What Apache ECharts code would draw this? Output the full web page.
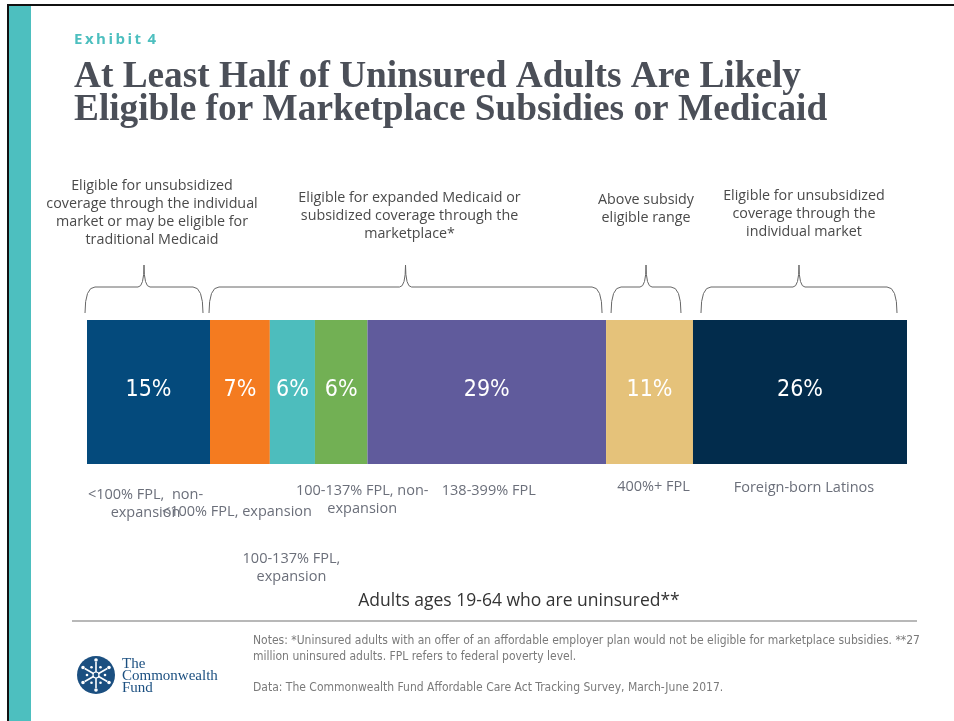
<!DOCTYPE html>
<html>
<head>
<meta charset="utf-8">
<script src="https://cdn.jsdelivr.net/npm/echarts@6/dist/echarts.min.js"></script>
<style>
html,body{margin:0;padding:0;background:#fff;}
#c{width:954px;height:721px;}
</style>
</head>
<body>
<div id="c"></div>
<script>
// ---- data ----
const categories = ['<100% FPL,  non-\nexpansion', '<100% FPL, expansion', '100-137% FPL,\nexpansion', '100-137% FPL, non-\nexpansion', '138-399% FPL', '400%+ FPL', 'Foreign-born Latinos'];
const shares = [15, 7.3, 5.5, 6.4, 29.1, 10.6, 26.1];
const colors = ['#044a7c', '#f47b20', '#4dbdbd', '#72b054', '#605b9c', '#e5c27a', '#022c4c'];
const groupRanges = [[0, 0], [1, 4], [5, 5], [6, 6]];
const groupTexts = [
  'Eligible for unsubsidized\ncoverage through the individual\nmarket or may be eligible for\ntraditional Medicaid',
  'Eligible for expanded Medicaid or\nsubsidized coverage through the\nmarketplace*',
  'Above subsidy\neligible range',
  'Eligible for unsubsidized\ncoverage through the\nindividual market'
];
const axisTitle = 'Adults ages 19-64 who are uninsured**';
const titleText = 'At Least Half of Uninsured Adults Are Likely\nEligible for Marketplace Subsidies or Medicaid';
const notesText = 'Notes: *Uninsured adults with an offer of an affordable employer plan would not be eligible for marketplace subsidies. **27\nmillion uninsured adults. FPL refers to federal poverty level.';
const dataText = 'Data: The Commonwealth Fund Affordable Care Act Tracking Survey, March-June 2017.';

// ---- layout (styling only) ----
const catLabelLayout = [[-3, 495], [-3, 512], [-1, 559], [21, 491], [2, 491], [4, 487], [4, 488]];
const braceInsets = [[-2, 7], [-1, 4], [5, 12], [8, 10]];
const groupTextTop = [177, 189, 191, 187];
const groupTextDx = [8, 4, 0, 5];

const chart = echarts.init(document.getElementById('c'), null, {renderer: 'canvas'});

const series = shares.map((v, i) => ({
  name: categories[i],
  type: 'bar',
  stack: 'all',
  barWidth: 144,
  data: [v],
  itemStyle: {color: colors[i]},
  label: {
    show: true,
    position: 'inside',
    formatter: p => Math.round(p.value) + '%',
    color: '#ffffff',
    fontFamily: 'Liberation Sans Narrow, DejaVu Sans Condensed, sans-serif',
    fontSize: 23,
    offset: [0, -2]
  }
}));

chart.setOption({
  animation: false,
  grid: {left: 87, right: 47, top: 320, height: 144},
  xAxis: {type: 'value', min: 0, max: 100, show: false},
  yAxis: {type: 'category', data: ['uninsured'], show: false},
  series: series
});

const g = [];
// frame and teal band
g.push({type: 'rect', shape: {x: 7, y: 4, width: 947, height: 2}, style: {fill: '#111'}});
g.push({type: 'rect', shape: {x: 7, y: 4, width: 2, height: 717}, style: {fill: '#111'}});
g.push({type: 'rect', shape: {x: 9, y: 6, width: 22, height: 715}, style: {fill: '#4dbfbf'}});

g.push({type: 'text', x: 74, y: 40, style: {text: 'E\u2009x\u2009h\u2009i\u2009b\u2009i\u2009t\u2009 4', fill: '#4dbfbf', font: 'bold 15px "Open Sans", sans-serif', textVerticalAlign: 'middle', verticalAlign: 'middle'}});
g.push({type: 'text', x: 74, y: 94, style: {text: titleText, fill: '#4b4f58', font: 'bold 37.3px "Liberation Serif", serif', lineHeight: 33, textVerticalAlign: 'middle', verticalAlign: 'middle'}});

const cum = [];
let acc = 0;
shares.forEach(v => { cum.push([acc, acc + v]); acc += v; });
const px = v => chart.convertToPixel({xAxisIndex: 0}, v);

// category labels
categories.forEach((c, i) => {
  const cx = (px(cum[i][0]) + px(cum[i][1])) / 2;
  g.push({type: 'text', x: cx + catLabelLayout[i][0], y: catLabelLayout[i][1] - 9,
    style: {text: c, fill: '#6b6f7a', font: '14.5px "Open Sans", sans-serif', lineHeight: 18,
      textAlign: 'center', align: 'center', textVerticalAlign: 'top', verticalAlign: 'top'}});
});

// braces
groupRanges.forEach((r, k) => {
  const x1 = px(cum[r[0]][0]) + braceInsets[k][0];
  const x2 = px(cum[r[1]][1]) - braceInsets[k][1];
  const cx = (x1 + x2) / 2;
  const yb = 313, ym = 287, yt = 265;
  const ls = {stroke: '#666', lineWidth: 1, fill: null};
  g.push({type: 'bezierCurve', shape: {x1: x1, y1: yb, cpx1: x1, cpy1: ym, x2: x1 + 10, y2: ym}, style: ls});
  g.push({type: 'line', shape: {x1: x1 + 10, y1: ym, x2: cx - 6, y2: ym}, style: ls});
  g.push({type: 'bezierCurve', shape: {x1: cx - 6, y1: ym, cpx1: cx, cpy1: ym, x2: cx, y2: yt}, style: ls});
  g.push({type: 'bezierCurve', shape: {x1: cx, y1: yt, cpx1: cx, cpy1: ym, x2: cx + 6, y2: ym}, style: ls});
  g.push({type: 'line', shape: {x1: cx + 6, y1: ym, x2: x2 - 10, y2: ym}, style: ls});
  g.push({type: 'bezierCurve', shape: {x1: x2 - 10, y1: ym, cpx1: x2, cpy1: ym, x2: x2, y2: yb}, style: ls});
  g.push({type: 'text', x: cx + groupTextDx[k], y: groupTextTop[k], style: {text: groupTexts[k], fill: '#4a4a4a', font: '14.3px "Open Sans", sans-serif', lineHeight: 18,
    textAlign: 'center', align: 'center', textVerticalAlign: 'top', verticalAlign: 'top'}});
});

// axis title
g.push({type: 'text', x: (px(0) + px(100)) / 2 + 22, y: 601, style: {text: axisTitle, fill: '#333', font: '17.5px "Open Sans", sans-serif',
  textAlign: 'center', align: 'center', textVerticalAlign: 'middle', verticalAlign: 'middle'}});

// separator
g.push({type: 'line', shape: {x1: 72, y1: 621, x2: 917, y2: 621}, style: {stroke: '#a0a0a0', lineWidth: 1.5}});

// notes
g.push({type: 'text', x: 253, y: 649, style: {text: notesText, fill: '#7a7a7a', font: '12px "Liberation Sans Narrow", "DejaVu Sans Condensed", sans-serif', lineHeight: 16, textVerticalAlign: 'middle', verticalAlign: 'middle'}});
g.push({type: 'text', x: 253, y: 688, style: {text: dataText, fill: '#7a7a7a', font: '12px "Liberation Sans Narrow", "DejaVu Sans Condensed", sans-serif', textVerticalAlign: 'middle', verticalAlign: 'middle'}});

// logo
const lx = 96, ly = 675;
g.push({type: 'circle', shape: {cx: lx, cy: ly, r: 19}, style: {fill: '#1b4f80'}});
for (let a = 0; a < 6; a++) {
  const ang = a * Math.PI / 3 + Math.PI / 2;
  const ex = lx + Math.cos(ang) * 13, ey = ly + Math.sin(ang) * 13;
  g.push({type: 'line', shape: {x1: lx, y1: ly, x2: ex, y2: ey}, style: {stroke: '#fff', lineWidth: 1.6}});
  g.push({type: 'circle', shape: {cx: lx + Math.cos(ang) * 15, cy: ly + Math.sin(ang) * 15, r: 1.8}, style: {fill: '#fff'}});
  const ang2 = ang + Math.PI / 6;
  g.push({type: 'circle', shape: {cx: lx + Math.cos(ang2) * 9, cy: ly + Math.sin(ang2) * 9, r: 1.3}, style: {fill: '#fff'}});
}
g.push({type: 'circle', shape: {cx: lx, cy: ly, r: 3}, style: {fill: '#1b4f80', stroke: '#fff', lineWidth: 1.2}});
g.push({type: 'text', x: 122, y: 676, style: {text: 'The\nCommonwealth\nFund', fill: '#1b4f80', font: '15px "Liberation Serif", serif', lineHeight: 12, textVerticalAlign: 'middle', verticalAlign: 'middle'}});

chart.setOption({graphic: {elements: g}});
</script>
</body>
</html>
